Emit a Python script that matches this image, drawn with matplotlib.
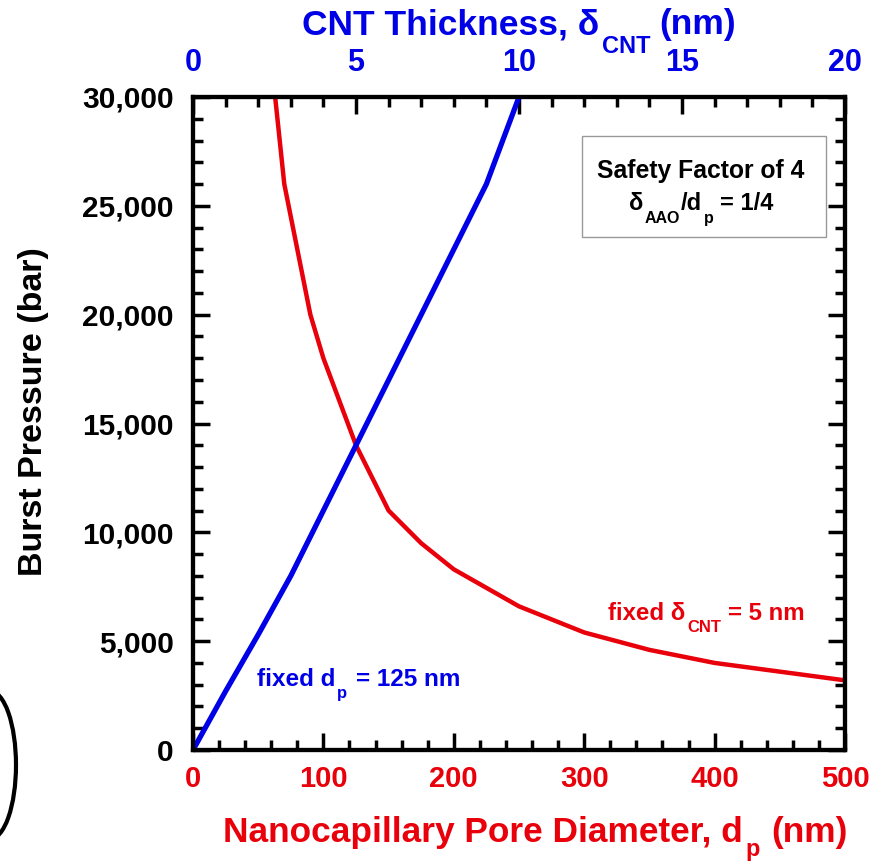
import matplotlib
matplotlib.use("Agg")
import matplotlib.pyplot as plt
from matplotlib.patches import Ellipse, Rectangle
from matplotlib.ticker import MultipleLocator, FuncFormatter
from matplotlib.transforms import IdentityTransform

# ====== Fonts ======
plt.rcParams['font.family'] = ['Liberation Sans', 'DejaVu Sans']
plt.rcParams['font.weight'] = 'bold'

RED = '#e8000b'
BLUE = '#0000e6'
W, H = 887, 864

# ====== Data ======
# red: fixed CNT thickness, burst pressure vs pore diameter (bottom axis)
pore_d = [63, 70, 90, 100, 125, 150, 175, 200, 250, 300, 350, 400, 500]
p_pore = [30000, 26000, 20000, 18000, 14000, 11000, 9500, 8300, 6600, 5400, 4600, 4000, 3200]

# blue: fixed pore diameter, burst pressure vs CNT thickness (top axis)
cnt_t = [0, 1, 2, 3, 4, 5, 6, 7, 8, 9, 10]
p_cnt = [0, 2700, 5300, 8000, 11000, 14000, 17000, 20000, 23000, 26000, 30000]

fig = plt.figure(figsize=(W / 100, H / 100), dpi=100)
ax = fig.add_axes([193 / W, 1 - 750 / H, 652 / W, 653 / H])
ax.plot(pore_d, p_pore, color=RED, lw=3.2)
ax.set_xlim(0, 500)
ax.set_ylim(0, 30000)

ax2 = ax.twiny()
ax2.plot(cnt_t, p_cnt, color=BLUE, lw=3.8)
ax2.set_xlim(0, 20)

# ====== Ticks ======
ax.xaxis.set_major_locator(MultipleLocator(100))
ax.xaxis.set_minor_locator(MultipleLocator(20))
ax.yaxis.set_major_locator(MultipleLocator(5000))
ax.yaxis.set_minor_locator(MultipleLocator(1000))
ax.yaxis.set_major_formatter(FuncFormatter(lambda v, p: f"{int(v):,}"))
ax2.xaxis.set_major_locator(MultipleLocator(5))
ax2.xaxis.set_minor_locator(MultipleLocator(1))

for a in (ax, ax2):
    a.tick_params(which='both', direction='in', width=2.5, color='black')
    a.tick_params(which='major', length=12)
    a.tick_params(which='minor', length=7)
    for s in a.spines.values():
        s.set_linewidth(3)
ax.tick_params(axis='y', which='both', right=True, labelsize=21.5, pad=14)
ax.tick_params(axis='x', labelcolor=RED, labelsize=21, pad=11)
ax2.tick_params(axis='x', labelcolor=BLUE, labelsize=22, pad=14)


# ====== Text with big dropped subscripts ======
def rich(x, y, parts, color, ha='left'):
    # x, y: image pixels from top-left, y = baseline
    # parts: (text, size, drop_px, gap_px)
    r = fig.canvas.get_renderer()
    items, total = [], 0
    for s, size, drop, gap in parts:
        t = fig.text(0, 0, s, fontsize=size, fontweight='bold', color=color,
                     transform=IdentityTransform(), ha='left', va='baseline')
        w = t.get_window_extent(r).width
        items.append((t, total + gap, drop))
        total += gap + w
    x0 = x - total / 2 if ha == 'center' else x
    for t, off, drop in items:
        t.set_position((x0 + off, H - y - drop))


rich(519, 34, [("CNT Thickness, δ", 25.5, 0, 0), ("CNT", 17, 19, 3), ("(nm)", 25.5, 0, 9)], BLUE, ha='center')
rich(223, 842, [("Nanocapillary Pore Diameter, d", 25.4, 0, 0), ("p", 17, 14, 3), ("(nm)", 25.4, 0, 11)], RED)
fig.text(18 / W, 1 - 412 / H, "Burst Pressure (bar)", fontsize=24.5, fontweight='bold',
         rotation=90, ha='left', va='center')

rich(257, 686, [("fixed d", 17.5, 0, 0), ("p", 12, 12, 2), ("= 125 nm", 17.5, 0, 9)], BLUE)
rich(608, 620, [("fixed δ", 17.3, 0, 0), ("CNT", 12, 12, 2), ("= 5 nm", 17.3, 0, 7)], RED)

# safety factor box
ax.add_patch(Rectangle(((582 - 193) / 652, (750 - 237) / 653), 244 / 652, 101 / 653,
                       transform=ax.transAxes, fill=False, ec='#999999', lw=1))
rich(701, 178, [("Safety Factor of 4", 17.8, 0, 0)], 'black', ha='center')
rich(701, 210, [("δ", 17, 0, 0), ("AAO", 11.5, 13, 2), ("/d", 17, 0, 1), ("p", 11.5, 13, 2),
                ("= 1/4", 17, 0, 6)], 'black', ha='center')

# stray bracket in the left margin
fig.patches.append(Ellipse((-10 / W, 1 - 765 / H), 52 / W, 148 / H,
                           transform=fig.transFigure, fill=False, ec='black', lw=3))

fig.savefig("out.png", dpi=100)
